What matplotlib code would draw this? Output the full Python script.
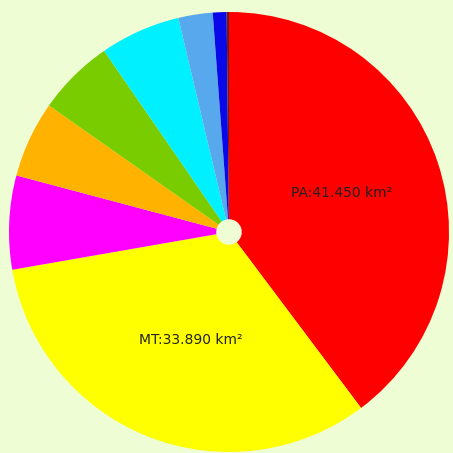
import matplotlib
matplotlib.use("Agg")
import matplotlib.pyplot as plt

states = ["PA", "MT", "RO", "MA", "AM", "AC", "TO", "RR", "AP"]
values = [41450, 33890, 7180, 5850, 5880, 6160, 2630, 1050, 180]
shown = ["PA:41.450 km²", "MT:33.890 km²", "", "", "", "", "", "", ""]
colors = ["#ff0000", "#ffff00", "#ff00ff", "#ffb300", "#78cc00",
          "#00f0ff", "#58a8ee", "#0808e8", "#6b1a1a"]

bg = "#eefdd3"
fig = plt.figure(figsize=(4.53, 4.53), dpi=100, facecolor=bg)
ax = fig.add_axes([0, 0, 1, 1])
ax.set_facecolor(bg)

wedges, texts = ax.pie(values, labels=shown, colors=colors, startangle=90,
                       counterclock=False, labeldistance=0.53,
                       wedgeprops=dict(width=0.942, linewidth=0),
                       textprops=dict(fontsize=10, color="#222222",
                                      ha="center", va="center"))
for t in texts:
    t.set_horizontalalignment("center")
x1, y1 = texts[1].get_position()
texts[1].set_position((x1 + 0.02, y1))
x0, y0 = texts[0].get_position()
texts[0].set_position((x0 + 0.01, y0 + 0.01))

ax.set_xlim(-229 / 220, (453 - 229) / 220)
ax.set_ylim(-221 / 220, 232 / 220)
ax.set_aspect("equal")
ax.axis("off")

fig.savefig("out.png", dpi=100, facecolor=bg)
